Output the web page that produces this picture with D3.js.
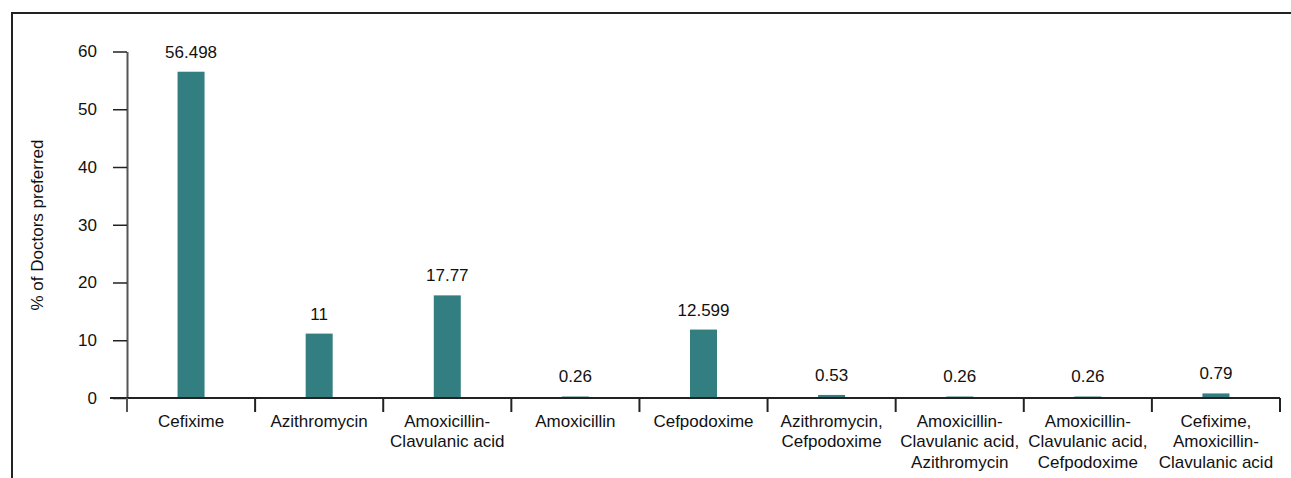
<!DOCTYPE html>
<html>
<head>
<meta charset="utf-8">
<script src="https://cdn.jsdelivr.net/npm/d3@7"></script>
<style>
  html, body { margin: 0; padding: 0; background: #fff; }
  svg { display: block; font-family: "Liberation Sans", Arial, sans-serif; }
</style>
</head>
<body>
<svg id="chart" width="1291" height="478"></svg>
<script>
const categories = [
  ["Cefixime"],
  ["Azithromycin"],
  ["Amoxicillin-", "Clavulanic acid"],
  ["Amoxicillin"],
  ["Cefpodoxime"],
  ["Azithromycin,", "Cefpodoxime"],
  ["Amoxicillin-", "Clavulanic acid,", "Azithromycin"],
  ["Amoxicillin-", "Clavulanic acid,", "Cefpodoxime"],
  ["Cefixime,", "Amoxicillin-", "Clavulanic acid"]
];
const values = [56.498, 11.15, 17.77, 0.26, 11.85, 0.53, 0.26, 0.26, 0.79];
const valueLabels = ["56.498", "11", "17.77", "0.26", "12.599", "0.53", "0.26", "0.26", "0.79"];
const yTicks = [0, 10, 20, 30, 40, 50, 60];
const yTitle = "% of Doctors preferred";

const svg = d3.select("#chart");
const FS = 17;
const barColor = "#337e80";

// frame (top and left)
svg.append("path")
  .attr("d", "M12,478 L12,13 L1291,13")
  .attr("fill", "none").attr("stroke", "#222").attr("stroke-width", 2);

const x0 = 127, x1 = 1280, yBase = 398, yTop = 51.5;
const idx = categories.map((d, i) => i);
const x = d3.scaleBand().domain(idx).range([x0, x1]).paddingInner(0).paddingOuter(0);
const y = d3.scaleLinear().domain([0, 60]).range([yBase, yTop]);

// y axis
const yAxis = d3.axisLeft(y).tickValues(yTicks).tickSizeInner(14).tickSizeOuter(0).tickPadding(16);
const gy = svg.append("g").attr("transform", `translate(${x0},0)`).call(yAxis);
gy.select(".domain").attr("stroke", "#555").attr("stroke-width", 2);
gy.selectAll(".tick line").attr("stroke", "#222").attr("stroke-width", 1.5);
gy.selectAll(".tick text").attr("font-size", FS).attr("fill", "#111")
  .attr("font-family", "Liberation Sans, Arial, sans-serif");

// bars
const bw = 27;
svg.append("g").selectAll("rect").data(values).join("rect")
  .attr("x", (d, i) => x(i) + x.bandwidth() / 2 - bw / 2)
  .attr("y", d => y(d))
  .attr("width", bw)
  .attr("height", d => yBase - y(d))
  .attr("fill", barColor);

// x axis line
svg.append("line").attr("x1", 110).attr("x2", x1).attr("y1", yBase).attr("y2", yBase)
  .attr("stroke", "#222").attr("stroke-width", 2);

// category separators
const seps = idx.map(i => x(i)).concat([x1]);
svg.append("g").selectAll("line").data(seps).join("line")
  .attr("x1", d => d).attr("x2", d => d)
  .attr("y1", yBase).attr("y2", yBase + 14)
  .attr("stroke", (d, i) => i === 0 ? "#555" : "#222")
  .attr("stroke-width", 2);

// category labels
const cl = svg.append("g");
categories.forEach((lines, i) => {
  const t = cl.append("text")
    .attr("x", x(i) + x.bandwidth() / 2)
    .attr("y", 426.5)
    .attr("text-anchor", "middle")
    .attr("font-size", FS)
    .attr("fill", "#111");
  lines.forEach((ln, j) => {
    t.append("tspan").attr("x", x(i) + x.bandwidth() / 2)
      .attr("y", 426.5 + j * 20.6).text(ln);
  });
});

// value labels
svg.append("g").selectAll("text").data(values).join("text")
  .attr("x", (d, i) => x(i) + x.bandwidth() / 2)
  .attr("y", d => y(d) - 14)
  .attr("text-anchor", "middle")
  .attr("font-size", FS)
  .attr("fill", "#111")
  .text((d, i) => valueLabels[i]);

// y title
svg.append("text")
  .attr("transform", `translate(43,225) rotate(-90)`)
  .attr("text-anchor", "middle")
  .attr("font-size", FS)
  .attr("fill", "#111")
  .text(yTitle);
</script>
</body>
</html>
